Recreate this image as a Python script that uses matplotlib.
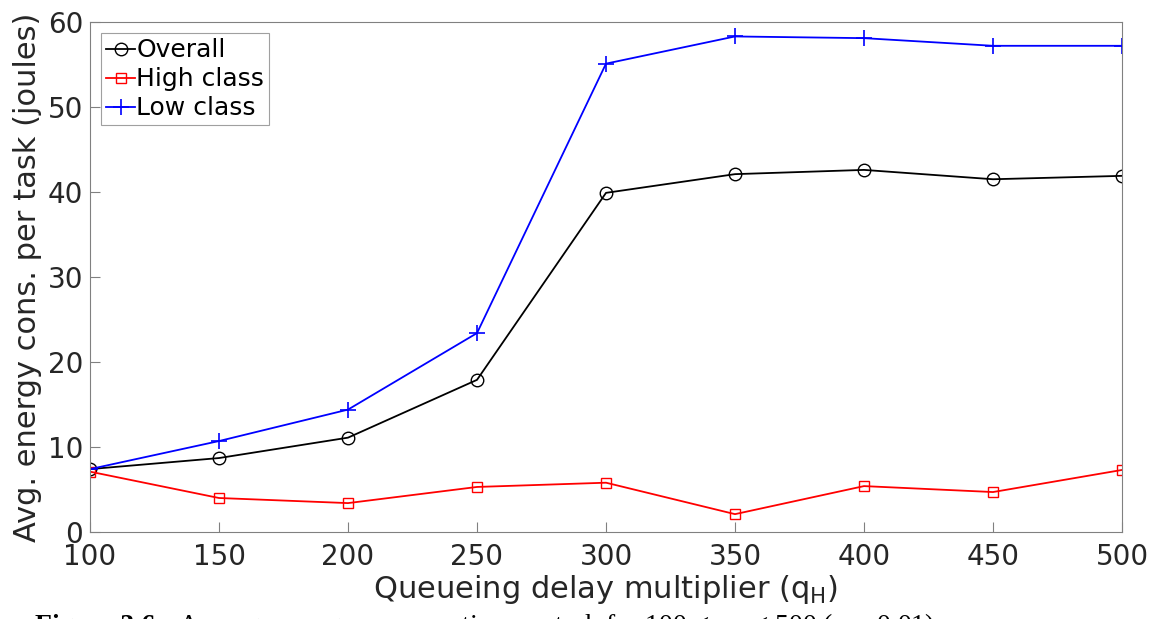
"""
Average energy consumption per task versus queueing delay multiplier.
"""

import matplotlib
matplotlib.use('Agg')
import matplotlib.pyplot as plt

plt.rcParams['font.family'] = ['DejaVu Sans']
plt.rcParams['mathtext.fontset'] = 'dejavusans'

# Data
q_h = [100, 150, 200, 250, 300, 350, 400, 450, 500]
overall = [7.4, 8.7, 11.1, 17.9, 39.9, 42.1, 42.6, 41.5, 41.9]
high_class = [7.1, 4.0, 3.4, 5.3, 5.8, 2.1, 5.4, 4.7, 7.3]
low_class = [7.4, 10.7, 14.4, 23.4, 55.1, 58.3, 58.1, 57.2, 57.2]

x_ticks = [100, 150, 200, 250, 300, 350, 400, 450, 500]
y_ticks = [0, 10, 20, 30, 40, 50, 60]

text_color = '#262626'
axis_color = '#808080'

fig = plt.figure(figsize=(11.55, 6.19), dpi=100)
ax = fig.add_axes([90 / 1155, 1 - 532 / 619, 1032 / 1155, 510 / 619])

ax.plot(q_h, overall, color='black', lw=1.3, marker='o', ms=9,
        mfc='none', mew=1.0, label='Overall')
ax.plot(q_h, high_class, color='red', lw=1.3, marker='s', ms=7,
        mfc='none', mew=1.0, label='High class')
ax.plot(q_h, low_class, color='blue', lw=1.3, marker='+', ms=11,
        mew=1.2, label='Low class')

ax.set_xlim(100, 500)
ax.set_ylim(0, 60)
ax.set_xticks(x_ticks)
ax.set_yticks(y_ticks)
ax.tick_params(direction='in', length=7, width=0.8, color=axis_color,
               labelsize=20, labelcolor=text_color)
ax.tick_params(axis='x', pad=8)
ax.tick_params(axis='y', pad=5)
for spine in ax.spines.values():
    spine.set_color(axis_color)
    spine.set_linewidth(0.8)

ax.set_xlabel('Queueing delay multiplier (q$_\\mathregular{H}$)',
              fontsize=22, color=text_color, labelpad=1)
ax.set_ylabel('Avg. energy cons. per task (joules)',
              fontsize=22, color=text_color, labelpad=4)

leg = ax.legend(loc='upper left', fontsize=18, handlelength=1.15,
                handletextpad=0.05, borderpad=0.2, labelspacing=0.2,
                borderaxespad=0.45, fancybox=False, framealpha=1)
leg.get_frame().set_edgecolor('#a0a0a0')
leg.get_frame().set_linewidth(0.8)

# Caption line from the document, cut by the bottom edge
fig.text(35 / 1155, -14 / 619, 'Figure 3.6:', fontsize=20,
         family='Liberation Serif', weight='bold', color='black',
         va='baseline')
fig.text(178 / 1155, -14 / 619,
         'Average energy consumption per task for 100 \u2264 q$_H$ \u2264 500 (\u03b1 = 0.01)',
         fontsize=20, family='Liberation Serif', color='black',
         va='baseline')

fig.savefig('out.png', dpi=100, facecolor='white')
